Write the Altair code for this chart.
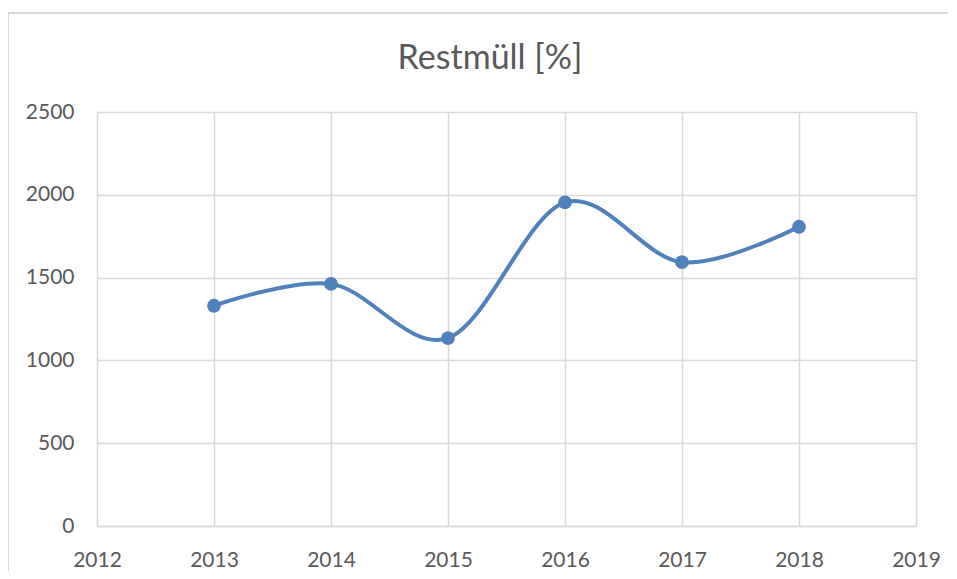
import altair as alt
import pandas as pd

years = [2013, 2014, 2015, 2016, 2017, 2018]
values = [1330, 1462, 1135, 1954, 1593, 1807]
x_ticks = [2012, 2013, 2014, 2015, 2016, 2017, 2018, 2019]
y_ticks = [0, 500, 1000, 1500, 2000, 2500]
title_text = "Restmüll [%]"

df = pd.DataFrame({"Jahr": years, "Wert": values})
title_df = pd.DataFrame({"t": [title_text]})

GRID = "#d9d9d9"
TEXT = "#595959"
BLUE = "#4f81bd"
FONT = "Lato"

x_enc = alt.X(
    "Jahr:Q",
    scale=alt.Scale(domain=[2012, 2019], nice=False, zero=False),
    axis=alt.Axis(
        values=x_ticks, format="d", title=None, grid=True, gridColor=GRID,
        gridWidth=1.5, domainColor=GRID, domainWidth=1.5, ticks=False,
        labelFont=FONT, labelFontSize=21, labelColor=TEXT,
        labelBaseline="alphabetic", labelPadding=40, labelFlush=False,
    ),
)
y_enc = alt.Y(
    "Wert:Q",
    scale=alt.Scale(domain=[0, 2500], nice=False),
    axis=alt.Axis(
        values=y_ticks, format="d", title=None, grid=True, gridColor=GRID,
        gridWidth=1.5, domain=False, ticks=False, labelFont=FONT,
        labelFontSize=21, labelColor=TEXT, labelPadding=23, labelFlush=False,
    ),
)

frame = alt.Chart(df).mark_rect(
    fillOpacity=0, stroke=GRID, strokeWidth=2
).encode(
    x=alt.value(-89), x2=alt.value(1200), y=alt.value(-99), y2=alt.value(900)
)

title = alt.Chart(title_df).mark_text(
    font=FONT, fontSize=34, color=TEXT, align="center", baseline="alphabetic"
).encode(x=alt.value(393), y=alt.value(-43), text="t:N")

line = alt.Chart(df).mark_line(
    color=BLUE, strokeWidth=4, interpolate="cardinal"
).encode(x=x_enc, y=y_enc)

points = alt.Chart(df).mark_point(
    filled=True, color=BLUE, size=190, opacity=1
).encode(x=x_enc, y=y_enc)

chart = alt.layer(frame, title, line, points).properties(
    width=819,
    height=414,
    autosize=alt.AutoSizeParams(type="none"),
    padding={"left": 89, "top": 104, "right": 32, "bottom": 45},
).configure_view(stroke=None)

chart.save("out.html", embed_options={"renderer": "svg", "actions": False})
